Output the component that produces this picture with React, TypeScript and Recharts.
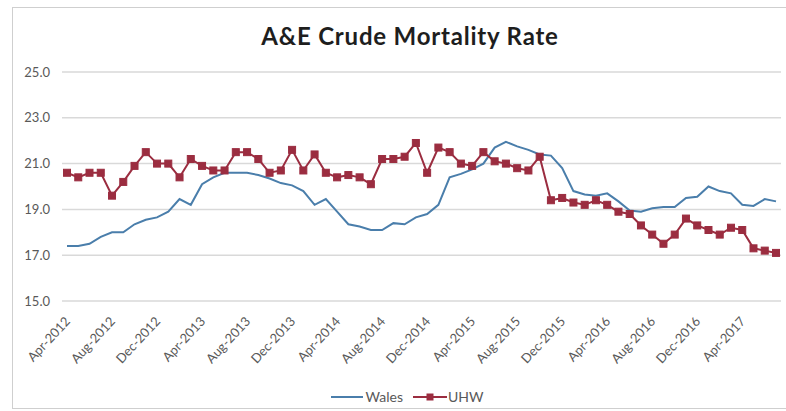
import React from "react";
import { LineChart, Line, XAxis, YAxis, CartesianGrid, Legend } from "recharts";

const months = [
  "Apr-2012","May-2012","Jun-2012","Jul-2012","Aug-2012","Sep-2012","Oct-2012","Nov-2012",
  "Dec-2012","Jan-2013","Feb-2013","Mar-2013","Apr-2013","May-2013","Jun-2013","Jul-2013",
  "Aug-2013","Sep-2013","Oct-2013","Nov-2013","Dec-2013","Jan-2014","Feb-2014","Mar-2014",
  "Apr-2014","May-2014","Jun-2014","Jul-2014","Aug-2014","Sep-2014","Oct-2014","Nov-2014",
  "Dec-2014","Jan-2015","Feb-2015","Mar-2015","Apr-2015","May-2015","Jun-2015","Jul-2015",
  "Aug-2015","Sep-2015","Oct-2015","Nov-2015","Dec-2015","Jan-2016","Feb-2016","Mar-2016",
  "Apr-2016","May-2016","Jun-2016","Jul-2016","Aug-2016","Sep-2016","Oct-2016","Nov-2016",
  "Dec-2016","Jan-2017","Feb-2017","Mar-2017","Apr-2017","May-2017","Jun-2017","Jul-2017",
];

const wales = [
  17.4, 17.4, 17.5, 17.8, 18.0, 18.0, 18.35, 18.55,
  18.65, 18.9, 19.45, 19.2, 20.1, 20.4, 20.6, 20.6,
  20.6, 20.5, 20.35, 20.15, 20.05, 19.8, 19.2, 19.45,
  18.9, 18.35, 18.25, 18.1, 18.1, 18.4, 18.35, 18.65,
  18.8, 19.2, 20.4, 20.55, 20.75, 21.0, 21.7, 21.95,
  21.75, 21.6, 21.4, 21.35, 20.8, 19.8, 19.65, 19.6,
  19.7, 19.35, 18.95, 18.9, 19.05, 19.1, 19.1, 19.5,
  19.55, 20.0, 19.8, 19.7, 19.2, 19.15, 19.45, 19.35,
];

const uhw = [
  20.6, 20.4, 20.6, 20.6, 19.6, 20.2, 20.9, 21.5,
  21.0, 21.0, 20.4, 21.2, 20.9, 20.7, 20.7, 21.5,
  21.5, 21.2, 20.6, 20.7, 21.6, 20.7, 21.4, 20.6,
  20.4, 20.5, 20.4, 20.1, 21.2, 21.2, 21.3, 21.9,
  20.6, 21.7, 21.5, 21.0, 20.9, 21.5, 21.1, 21.0,
  20.8, 20.7, 21.3, 19.4, 19.5, 19.3, 19.2, 19.4,
  19.2, 18.9, 18.8, 18.3, 17.9, 17.5, 17.9, 18.6,
  18.3, 18.1, 17.9, 18.2, 18.1, 17.3, 17.2, 17.1,
];

const yTicks = [15, 17, 19, 21, 23, 25];

const data = months.map((m, i) => ({ month: m, Wales: wales[i], UHW: uhw[i] }));

const FONT = "Lato, 'Open Sans', sans-serif";
const BLUE = "#4a7eab";
const RED = "#9b2d40";

const XTick = (props: any) => {
  const { x, y, payload } = props;
  const ax = x + 4;
  const ay = y + 13;
  return (
    <text
      x={ax}
      y={ay}
      textAnchor="end"
      transform={`rotate(-47, ${ax}, ${ay})`}
      fontSize={13}
      fontFamily={FONT}
      fill="#595959"
    >
      {payload.value}
    </text>
  );
};

const Square = (props: any) => {
  const { cx, cy } = props;
  if (cx == null || cy == null) return null;
  return <rect x={cx - 3.5} y={cy - 3.5} width={7} height={7} fill={RED} stroke={RED} />;
};

const LegendContent = () => (
  <div style={{ display: "flex", justifyContent: "center", alignItems: "center", paddingLeft: 28, fontFamily: FONT, fontSize: 14, color: "#595959" }}>
    <svg width={32} height={10}><line x1={0} y1={5} x2={32} y2={5} stroke={BLUE} strokeWidth={2} /></svg>
    <span style={{ marginLeft: 3, marginRight: 10 }}>Wales</span>
    <svg width={34} height={10}>
      <line x1={0} y1={5} x2={34} y2={5} stroke={RED} strokeWidth={2} />
      <rect x={13.5} y={1.5} width={7} height={7} fill={RED} />
    </svg>
    <span style={{ marginLeft: 1 }}>UHW</span>
  </div>
);

export default function App() {
  return (
    <div style={{ position: "absolute", left: 0, top: 0, width: 786, height: 411, background: "#fff" }}>
      <div style={{ position: "absolute", left: 12, top: 7, width: 780, height: 402, border: "1px solid #cfcfcf", boxSizing: "border-box" }} />
      <div style={{ position: "absolute", left: 0, width: 820, top: 21, textAlign: "center", fontFamily: FONT, fontWeight: 700, fontSize: 24, letterSpacing: 0.8, color: "#1e1e1e" }}>
        A&amp;E Crude Mortality Rate
      </div>
      <LineChart width={786} height={411} data={data} margin={{ top: 72, right: 5, left: 12, bottom: 14 }}>
        <CartesianGrid vertical={false} stroke="#d9d9d9" strokeWidth={1.5} />
        <XAxis
          dataKey="month"
          interval={3}
          tick={<XTick />}
          tickLine={false}
          axisLine={false}
          height={72}
          padding={{ left: 5, right: 5 }}
        />
        <YAxis
          domain={[15, 25]}
          ticks={yTicks}
          tickFormatter={(v: number) => v.toFixed(1)}
          tick={{ fontSize: 13, fontFamily: FONT, fill: "#595959", dx: -4 }}
          tickLine={false}
          axisLine={false}
          width={50}
        />
        <Legend
          verticalAlign="bottom"
          height={24}
          wrapperStyle={{ left: 0, width: 786, top: 388 }}
          content={<LegendContent />}
        />
        <Line type="linear" dataKey="Wales" stroke={BLUE} strokeWidth={2} dot={false} isAnimationActive={false} />
        <Line type="linear" dataKey="UHW" stroke={RED} strokeWidth={2} dot={<Square />} isAnimationActive={false} />
      </LineChart>
    </div>
  );
}
